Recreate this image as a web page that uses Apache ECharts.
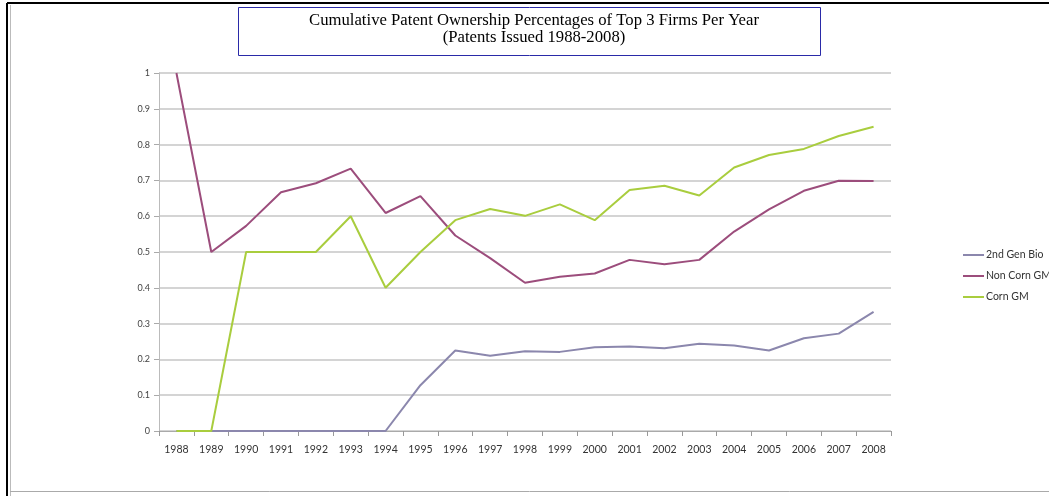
<!DOCTYPE html>
<html>
<head>
<meta charset="utf-8">
<script src="https://cdn.jsdelivr.net/npm/echarts@6/dist/echarts.min.js"></script>
<style>
  html, body { margin: 0; padding: 0; background: #fff; }
  #chart { width: 1049px; height: 496px; }
</style>
</head>
<body>
<div id="chart"></div>
<script>
// years on the x axis
const years = ['1988', '1989', '1990', '1991', '1992', '1993', '1994', '1995', '1996', '1997', '1998',
               '1999', '2000', '2001', '2002', '2003', '2004', '2005', '2006', '2007', '2008'];

// values
const secondGenBio = [0, 0, 0, 0, 0, 0, 0, 0.128, 0.225, 0.21, 0.223,
                      0.221, 0.234, 0.236, 0.231, 0.244, 0.239, 0.225, 0.259, 0.272, 0.333];
const nonCornGM = [1, 0.5, 0.573, 0.667, 0.692, 0.733, 0.609, 0.656, 0.546, 0.483, 0.414,
                   0.431, 0.44, 0.478, 0.466, 0.478, 0.557, 0.619, 0.671, 0.699, 0.698];
const cornGM = [0, 0, 0.5, 0.5, 0.5, 0.6, 0.4, 0.5, 0.589, 0.62, 0.601,
                0.633, 0.589, 0.673, 0.685, 0.658, 0.736, 0.771, 0.788, 0.824, 0.85];

const chart = echarts.init(document.getElementById('chart'));

const line = (name, data, color) => ({
    name,
    type: 'line',
    data,
    symbol: 'none',
    lineStyle: { color, width: 2 },
    itemStyle: { color },
    animation: false
});

chart.setOption({
    backgroundColor: '#fff',
    title: {
        text: 'Cumulative Patent Ownership Percentages of Top 3 Firms Per Year\n(Patents Issued 1988-2008)',
        left: 529,
        top: 7,
        textAlign: 'center',
        textStyle: {
            fontFamily: 'Liberation Serif',
            fontWeight: 'normal',
            fontSize: 16.7,
            lineHeight: 17,
            color: '#000'
        }
    },
    graphic: [
        { type: 'line', shape: { x1: 7, y1: 3, x2: 1049, y2: 3 }, style: { stroke: '#000', lineWidth: 2 } },
        { type: 'line', shape: { x1: 7, y1: 3, x2: 7, y2: 496 }, style: { stroke: '#000', lineWidth: 2 } },
        { type: 'line', shape: { x1: 10.5, y1: 5, x2: 10.5, y2: 496 }, style: { stroke: '#bbb', lineWidth: 1 } },
        { type: 'line', shape: { x1: 10, y1: 491.5, x2: 1049, y2: 491.5 }, style: { stroke: '#aaa', lineWidth: 1 } },
        { type: 'rect', shape: { x: 238.5, y: 7.5, width: 582, height: 48 },
          style: { fill: 'none', stroke: '#2a2aa8', lineWidth: 1 }, z: -1 }
    ],
    legend: {
        orient: 'vertical',
        left: 958,
        top: 244,
        itemGap: 9,
        itemWidth: 21,
        itemHeight: 2,
        icon: 'rect',
        textStyle: { fontFamily: 'Lato', fontSize: 10.5, lineHeight: 12, color: '#333', padding: [0, 0, 0, -3] },
        data: ['2nd Gen Bio', 'Non Corn GM', 'Corn GM']
    },
    grid: { left: 159, right: 158, top: 73, bottom: 65 },
    xAxis: {
        type: 'category',
        data: years,
        boundaryGap: true,
        axisLine: { lineStyle: { color: '#aaa', width: 1 } },
        axisTick: { show: true, length: 5, alignWithLabel: false, lineStyle: { color: '#999' } },
        axisLabel: { fontFamily: 'Lato', fontSize: 10.5, color: '#333', margin: 13 }
    },
    yAxis: {
        type: 'value',
        min: 0,
        max: 1,
        interval: 0.1,
        axisLine: { show: true, lineStyle: { color: '#bbb', width: 1 } },
        axisTick: { show: true, length: 5, lineStyle: { color: '#aaa' } },
        axisLabel: { fontFamily: 'Lato', fontSize: 9, color: '#444', margin: 9 },
        splitLine: { lineStyle: { color: '#c6c6c6', width: 1.5 } }
    },
    series: [
        line('2nd Gen Bio', secondGenBio, '#8b87ad'),
        line('Non Corn GM', nonCornGM, '#9c4d7c'),
        line('Corn GM', cornGM, '#a9cd3e')
    ]
});
</script>
</body>
</html>
